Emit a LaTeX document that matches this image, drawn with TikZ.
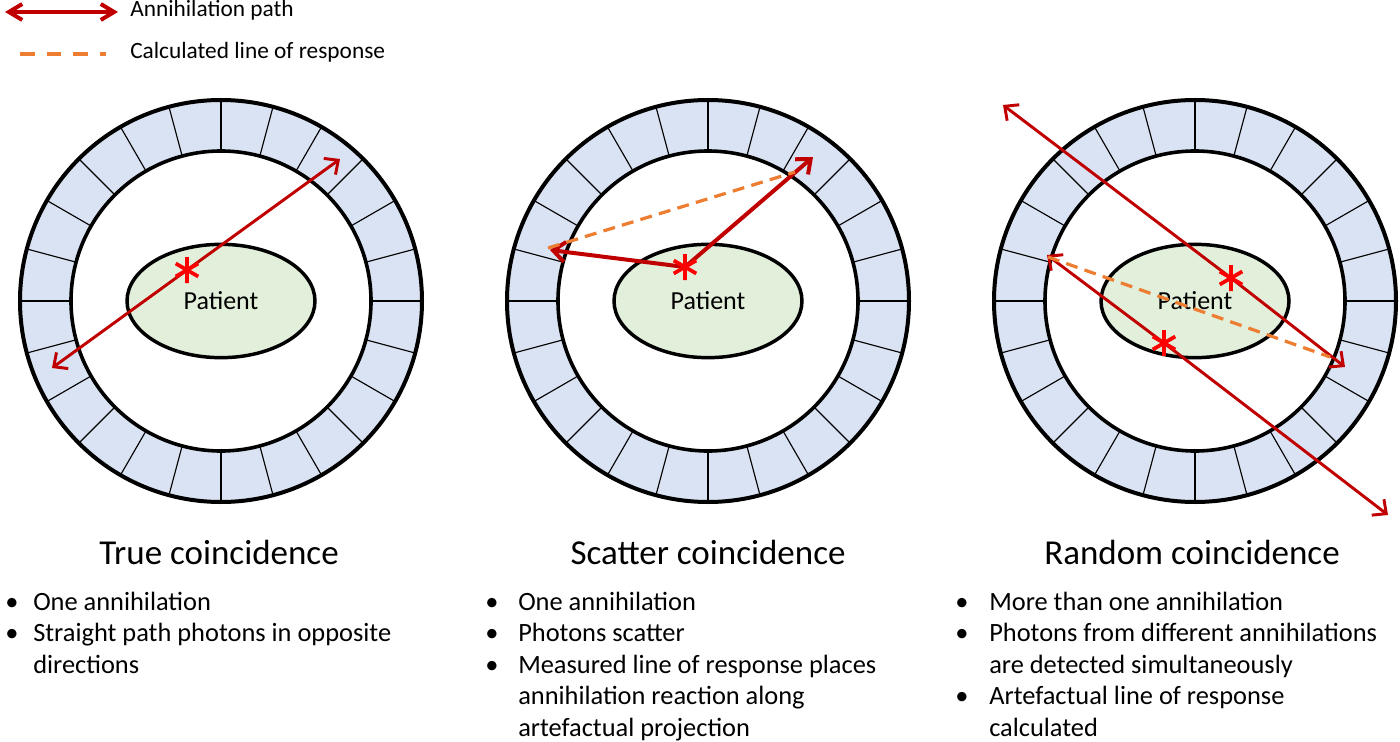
\documentclass[tikz,border=0pt]{standalone}
\usepackage{fontspec}
\setmainfont{Carlito}
\usepackage{tikz}
\usetikzlibrary{arrows.meta,shapes.geometric}
\definecolor{ringblue}{RGB}{218,227,243}
\definecolor{patgreen}{RGB}{226,239,218}
\definecolor{pathred}{RGB}{192,0,0}
\definecolor{lorange}{RGB}{237,125,49}
% detector ring with patient, centred at (0,301) of the current scope
\newcommand{\detring}[1]{%
  \fill[ringblue,even odd rule] (0,301) circle[radius=201] (0,301) circle[radius=150];
  \foreach \a in {0,15,...,345} \draw[line width=0.85pt] (0,301) ++(\a:150) -- ++(\a:51);
  \draw[line width=3pt] (0,301) circle[radius=201];
  \draw[line width=2.7pt] (0,301) circle[radius=150];
  \node[patient] (pat#1) at (0,301) {Patient};}
% annihilation event
\newcommand{\burst}[1]{%
  \draw[burst] (#1) ++(90:13) -- ++(270:26) (#1) ++(30:13) -- ++(210:26) (#1) ++(150:13) -- ++(330:26);}

\begin{document}
\begin{tikzpicture}[x=0.75pt,y=-0.75pt,
  photon/.style={pathred,line width=2.2pt,-{Straight Barb[length=8pt,width=15pt]}},
  scat/.style={pathred,line width=3pt,-{Straight Barb[length=9pt,width=15pt]}},
  lor/.style={lorange,line width=2.4pt,dash pattern=on 9pt off 5.5pt},
  burst/.style={red,line width=2.8pt},
  patient/.style={ellipse,draw,line width=2.6pt,fill=patgreen,minimum width=141pt,
    minimum height=85pt,inner sep=0pt,font=\fontsize{19.5}{23}\selectfont},
  headtxt/.style={anchor=base,inner sep=0pt,font=\fontsize{26.25}{31}\selectfont},
  bultxt/.style={anchor=base west,inner sep=0pt,font=\fontsize{19.8}{24}\selectfont},
  legtxt/.style={anchor=base west,inner sep=0pt,font=\fontsize{17.5}{21}\selectfont}]
  \useasboundingbox (0,0) rectangle (1400,742);
  % Legend
  \coordinate (la) at (5,12); \coordinate (lb) at (118,12);
  \draw[pathred,line width=3pt,{Straight Barb[length=10pt,width=12pt]}-{Straight Barb[length=10pt,width=12pt]}] (la)--(lb);
  \node[legtxt] (lgA) at (130,17) {Annihilation path};
  \coordinate (lc) at (20,54); \coordinate (ld) at (106,54);
  \draw[lorange,line width=2.4pt,dash pattern=on 11pt off 9pt] (lc)--(ld);
  \node[legtxt] (lgB) at (130,58.5) {Calculated line of response};
  % True coincidence
  \begin{scope}[shift={(221,0)}]
    \detring{1}
    \coordinate (e1) at (-34,270);
    \coordinate (t1a) at (-169,368); \coordinate (t1b) at (119,159);
    \draw[photon] (e1)--(t1a); \draw[photon] (e1)--(t1b);
    \burst{e1}
    \node[headtxt] (h1) at (-2,564) {True coincidence};
    \node[bultxt] (b1a) at (-216,610) {\textbullet};
    \node[bultxt] (l1a) at (-188,610) {One annihilation};
    \node[bultxt] (b1b) at (-216,641.5) {\textbullet};
    \node[bultxt] (l1b) at (-188,641.5) {Straight path photons in opposite};
    \node[bultxt] (l1c) at (-188,673) {directions};
  \end{scope}
  % Scatter coincidence
  \begin{scope}[shift={(708,0)}]
    \detring{2}
    \coordinate (e2) at (-23,267);
    \coordinate (t2a) at (105,157); \coordinate (t2b) at (-158,250);
    \coordinate (s2a) at (-160,248); \coordinate (s2b) at (87,172);
    \draw[scat] (e2)--(t2a); \draw[scat] (e2)--(t2b);
    \draw[lor] (s2a)--(s2b);
    \burst{e2}
    \node[headtxt] (h2) at (0,564) {Scatter coincidence};
    \node[bultxt] (b2a) at (-223,610) {\textbullet};
    \node[bultxt] (l2a) at (-190,610) {One annihilation};
    \node[bultxt] (b2b) at (-223,641.5) {\textbullet};
    \node[bultxt] (l2b) at (-190,641.5) {Photons scatter};
    \node[bultxt] (b2c) at (-223,673) {\textbullet};
    \node[bultxt] (l2c) at (-190,673) {Measured line of response places};
    \node[bultxt] (l2d) at (-190,704.5) {annihilation reaction along};
    \node[bultxt] (l2e) at (-190,736) {artefactual projection};
  \end{scope}
  % Random coincidence
  \begin{scope}[shift={(1195,0)}]
    \detring{3}
    \coordinate (e3a) at (36,278); \coordinate (e3b) at (-31,343);
    \coordinate (t3a) at (-192,105); \coordinate (t3b) at (150,367);
    \coordinate (t3c) at (-148,255); \coordinate (t3d) at (193,515);
    \coordinate (s3a) at (-147,257); \coordinate (s3b) at (135,357);
    \draw[photon] (e3a)--(t3a); \draw[photon] (e3a)--(t3b);
    \draw[photon] (e3b)--(t3c); \draw[photon] (e3b)--(t3d);
    \draw[lor] (s3a)--(s3b);
    \burst{e3a} \burst{e3b}
    \node[headtxt] (h3) at (-3,564) {Random coincidence};
    \node[bultxt] (b3a) at (-240,610) {\textbullet};
    \node[bultxt] (l3a) at (-206,610) {More than one annihilation};
    \node[bultxt] (b3b) at (-240,641.5) {\textbullet};
    \node[bultxt] (l3b) at (-206,641.5) {Photons from different annihilations};
    \node[bultxt] (l3c) at (-206,673) {are detected simultaneously};
    \node[bultxt] (b3c) at (-240,704.5) {\textbullet};
    \node[bultxt] (l3d) at (-206,704.5) {Artefactual line of response};
    \node[bultxt] (l3e) at (-206,736) {calculated};
  \end{scope}
\end{tikzpicture}
\end{document}
